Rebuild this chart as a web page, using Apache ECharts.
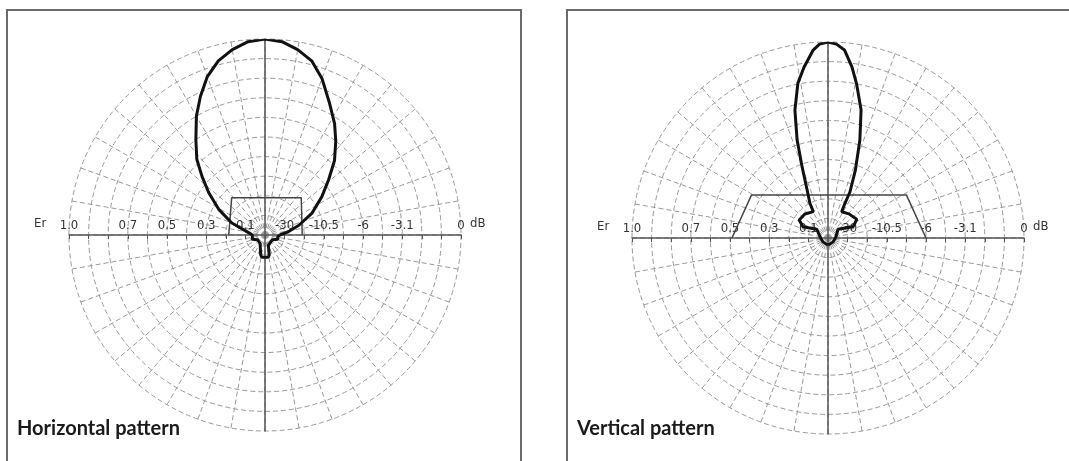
<!DOCTYPE html>
<html>
<head>
<meta charset="utf-8">
<script src="https://cdn.jsdelivr.net/npm/echarts@6/dist/echarts.min.js"></script>
<style>
  html, body { margin: 0; background: #fff; }
  #main { width: 1069px; height: 461px; }
</style>
</head>
<body>
<div id="main"></div>
<script>
// horizontal pattern, field strength Er (0..1) per angle (deg, 0 = right, ccw)
const hAngles = [0, 8, 16, 25, 34, 41, 47, 53, 58, 64, 70, 75, 80, 85, 90, 95, 100, 105, 110, 115, 120, 126, 132, 137, 143, 151, 160, 173, 180,
  190, 198, 212, 240, 252, 258, 262, 270, 278, 282, 288, 300, 328, 342, 352, 360];
const hRadii = [0.075, 0.12, 0.18, 0.265, 0.35, 0.43, 0.52, 0.60, 0.67, 0.75, 0.85, 0.92, 0.96, 0.99, 1.0, 0.99, 0.96, 0.92, 0.86, 0.78, 0.70, 0.60, 0.52, 0.44, 0.36, 0.27, 0.18, 0.08, 0.065,
  0.065, 0.07, 0.045, 0.05, 0.055, 0.105, 0.115, 0.113, 0.115, 0.105, 0.055, 0.05, 0.045, 0.07, 0.065, 0.075];

// vertical pattern, traced in drawing order
const vAngles = [270, 321, 9, 41, 24, 33, 49, 62.5, 64, 64.5, 68, 72, 75.5, 79.5, 82, 85, 87.5, 90, 92.5, 94.5, 98, 101, 104.5, 107.5, 110, 113.5, 117.5, 119, 134, 148, 156, 142, 171, 219, 270];
const vRadii = [0.036, 0.033, 0.041, 0.068, 0.14, 0.175, 0.163, 0.151, 0.197, 0.26, 0.373, 0.526, 0.674, 0.80, 0.88, 0.963, 0.99, 1.0, 0.99, 0.962, 0.88, 0.805, 0.674, 0.524, 0.386, 0.267, 0.20, 0.154, 0.17, 0.173, 0.14, 0.073, 0.041, 0.033, 0.036];

// sector outline (trapezoid) in unit coordinates
const hTrapX = [-0.185, -0.17, 0.185, 0.19];
const hTrapY = [0, 0.19, 0.19, 0];
const vTrapX = [-0.49, -0.39, 0.40, 0.50];
const vTrapY = [0, 0.22, 0.22, 0];

// scale labels
const tickValues = [-1, -0.7, -0.5, -0.3, -0.1, 0.1, 0.3, 0.5, 0.7, 1];
const tickLabels = ['1.0', '0.7', '0.5', '0.3', '0.1', '-30', '-10.5', '-6', '-3.1', '0'];
const titles = ['Horizontal pattern', 'Vertical pattern'];

const panels = [
  { cx: 265, cy: 235, r: 196, boxX: 7 },
  { cx: 828, cy: 238, r: 196, boxX: 567 }
];

const labelMap = {};
tickValues.forEach((v, i) => { labelMap[v.toFixed(1)] = tickLabels[i]; });

const labelFont = "'Liberation Sans Narrow', 'DejaVu Sans Condensed', 'Liberation Sans', sans-serif";
const dash = { color: '#999', width: 1, type: [5, 3] };
const hidden = { axisLine: { show: false }, axisTick: { show: false }, axisLabel: { show: false }, splitLine: { show: false } };

var myChart = echarts.init(document.getElementById('main'));

// per panel: grid 2i = upper half (scale axis at its bottom), grid 2i+1 = full square (vertical line)
const grids = [], xAxes = [], yAxes = [];
panels.forEach(p => {
  const g = grids.length;
  grids.push({ left: p.cx - p.r, top: p.cy - p.r, width: 2 * p.r, height: p.r, containLabel: false, outerBoundsMode: 'none' });
  grids.push({ left: p.cx - p.r, top: p.cy - p.r, width: 2 * p.r, height: 2 * p.r, containLabel: false, outerBoundsMode: 'none' });
  xAxes.push({
    gridIndex: g, type: 'value', min: -1, max: 1, interval: 0.1, position: 'bottom',
    axisLine: { onZero: false, lineStyle: { color: '#555', width: 1.5 } },
    axisTick: { show: true, length: 4, lineStyle: { color: '#555' } },
    axisLabel: {
      inside: true, margin: 3, color: '#333', fontSize: 13, fontFamily: labelFont,
      showMinLabel: true, showMaxLabel: true,
      formatter: v => labelMap[Number(v).toFixed(1)] || ''
    },
    splitLine: { show: false }
  });
  yAxes.push(Object.assign({ gridIndex: g, type: 'value', min: 0, max: 1 }, hidden));
  xAxes.push(Object.assign({ gridIndex: g + 1, type: 'value', min: -1, max: 1 }, hidden));
  yAxes.push({
    gridIndex: g + 1, type: 'value', min: -1, max: 1,
    axisLine: { show: true, onZero: true, lineStyle: { color: '#555', width: 1.5 } },
    axisTick: { show: false }, axisLabel: { show: false }, splitLine: { show: false }
  });
});

var option = {
  animation: false,
  backgroundColor: '#fff',
  polar: panels.map(p => ({ center: [p.cx, p.cy], radius: p.r })),
  angleAxis: panels.map((p, i) => ({
    polarIndex: i, type: 'value', min: 0, max: 360, interval: 10,
    startAngle: 0, clockwise: false,
    axisLine: { show: false }, axisTick: { show: false }, axisLabel: { show: false },
    splitLine: { show: true, lineStyle: dash }
  })),
  radiusAxis: panels.map((p, i) => ({
    polarIndex: i, type: 'value', min: 0, max: 1, interval: 0.1,
    axisLine: { show: false }, axisTick: { show: false }, axisLabel: { show: false },
    splitLine: { show: true, lineStyle: dash }
  })),
  grid: grids,
  xAxis: xAxes,
  yAxis: yAxes,
  series: [
    {
      type: 'line', coordinateSystem: 'polar', polarIndex: 0,
      data: hAngles.map((a, i) => [hRadii[i], a]),
      showSymbol: false, lineStyle: { color: '#111', width: 3 }, z: 5
    },
    {
      type: 'line', coordinateSystem: 'polar', polarIndex: 1,
      data: vAngles.map((a, i) => [vRadii[i], a]),
      showSymbol: false, lineStyle: { color: '#111', width: 3 }, z: 5
    },
    {
      type: 'line', xAxisIndex: 0, yAxisIndex: 0,
      data: hTrapX.map((x, i) => [x, hTrapY[i]]),
      showSymbol: false, lineStyle: { color: '#444', width: 1.5 }, z: 4
    },
    {
      type: 'line', xAxisIndex: 2, yAxisIndex: 2,
      data: vTrapX.map((x, i) => [x, vTrapY[i]]),
      showSymbol: false, lineStyle: { color: '#444', width: 1.5 }, z: 4
    }
  ],
  graphic: [].concat(...panels.map((p, i) => [
    {
      type: 'rect', shape: { x: p.boxX, y: 10, width: 514, height: 480 },
      style: { fill: null, stroke: '#6a6a6a', lineWidth: 2 }, z: 10
    },
    {
      type: 'text', x: p.cx - p.r - 35, y: p.cy - 18,
      style: { text: 'Er', font: '13px ' + labelFont, fill: '#333' }
    },
    {
      type: 'text', x: p.cx + p.r + 9, y: p.cy - 18,
      style: { text: 'dB', font: '13px ' + labelFont, fill: '#333' }
    },
    {
      type: 'text', x: p.boxX + 10, y: 419,
      style: { text: titles[i], font: 'bold 20px Lato, "Open Sans", sans-serif', fill: '#1a1a1a' }
    }
  ]))
};

myChart.setOption(option);
</script>
</body>
</html>
